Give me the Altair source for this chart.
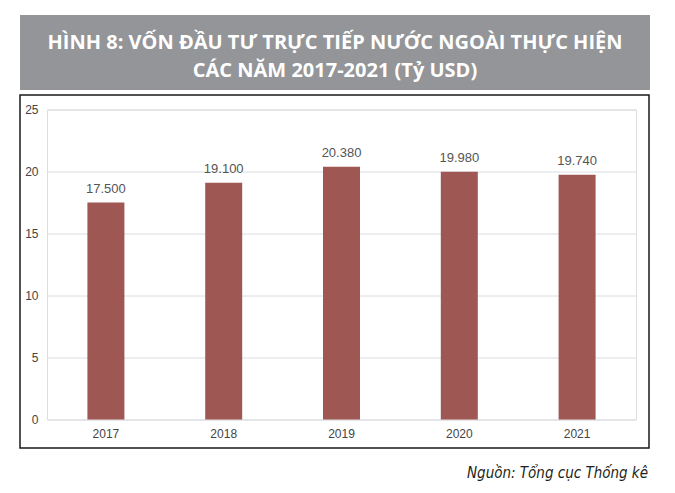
import altair as alt
import pandas as pd

years = ["2017", "2018", "2019", "2020", "2021"]
values = [17.5, 19.1, 20.38, 19.98, 19.74]
labels = ["17.500", "19.100", "20.380", "19.980", "19.740"]
y_ticks = [0, 5, 10, 15, 20, 25]
title_lines = ["HÌNH 8: VỐN ĐẦU TƯ TRỰC TIẾP NƯỚC NGOÀI THỰC HIỆN", "CÁC NĂM 2017-2021 (Tỷ USD)"]
source = "Nguồn: Tổng cục Thống kê"

df = pd.DataFrame({"year": years, "value": values, "label": labels})

W, H = 589, 310
BAR = "#9e5752"

x = alt.X("year:N", sort=years, title=None,
          scale=alt.Scale(paddingInner=0, paddingOuter=0),
          axis=alt.Axis(labelAngle=0, ticks=False, domain=False, labelPadding=9,
                        labelFont="Liberation Sans", labelFontSize=12, labelColor="#444444"))
y = alt.Y("value:Q", title=None,
          scale=alt.Scale(domain=[0, 25], nice=False),
          axis=alt.Axis(values=y_ticks, ticks=False, domain=False, labelPadding=9,
                        gridColor="#d9dce1", gridWidth=1,
                        labelFont="Liberation Sans", labelFontSize=12, labelColor="#444444"))

bars = alt.Chart(df).mark_bar(size=37, color=BAR).encode(x=x, y=y)
text = alt.Chart(df).mark_text(baseline="bottom", dy=-7, font="Liberation Sans",
                               fontSize=13, color="#555555").encode(
    x=alt.X("year:N", sort=years), y="value:Q", text="label:N")

one = pd.DataFrame({"k": [0]})

banner = alt.Chart(one).mark_rect(color="#939598").encode(
    x=alt.value(-27), x2=alt.value(603), y=alt.value(-94.5), y2=alt.value(-19.5))
box = alt.Chart(one).mark_rect(fill=None, stroke="#1a1a1a", strokeWidth=1.5).encode(
    x=alt.value(-27), x2=alt.value(602), y=alt.value(-14.5), y2=alt.value(338.5))

t1 = alt.Chart(one).mark_text(font="Open Sans", fontWeight="bold", fontSize=20,
                              color="white", baseline="middle", align="center").encode(
    x=alt.value(288), y=alt.value(-67), text=alt.value(title_lines[0]))
t2 = alt.Chart(one).mark_text(font="Open Sans", fontWeight="bold", fontSize=20,
                              color="white", baseline="middle", align="center").encode(
    x=alt.value(288), y=alt.value(-39), text=alt.value(title_lines[1]))
src = alt.Chart(one).mark_text(font="DejaVu Sans Condensed, Roboto", fontStyle="italic", fontSize=15,
                               color="#231f20", baseline="alphabetic", align="right").encode(
    x=alt.value(601), y=alt.value(368), text=alt.value(source))

chart = alt.layer(banner, box, bars, text, t1, t2, src).properties(
    width=W, height=H,
    padding={"left": 39, "top": 101.5, "right": 25, "bottom": 66},
    autosize=alt.AutoSizeParams(type="none"),
).configure_view(stroke=None).configure(background="white")

chart.save("out.html", embed_options={"renderer": "svg", "actions": False})
